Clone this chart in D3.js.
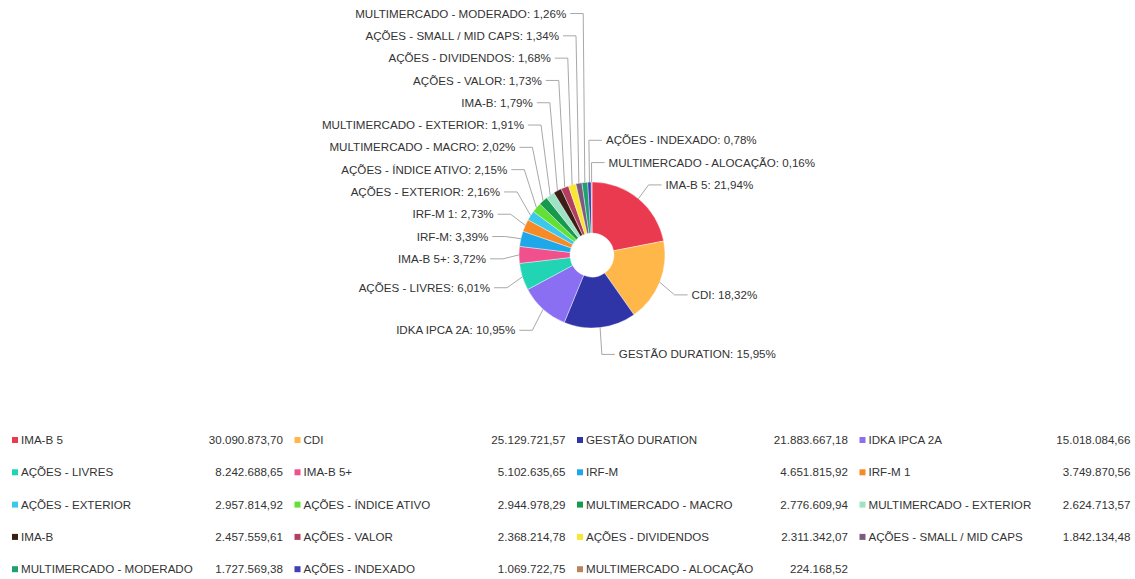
<!DOCTYPE html>
<html>
<head>
<meta charset="utf-8">
<style>
  body { margin: 0; background: #fff; }
  text { font-family: "Liberation Sans", Arial, sans-serif; font-size: 11.6px; fill: #333; }
</style>
</head>
<body>
<script src="https://cdn.jsdelivr.net/npm/d3@7"></script>
<script>
var svgWidth = 1135, svgHeight = 579;

var categories = ['IMA-B 5', 'CDI', 'GESTÃO DURATION', 'IDKA IPCA 2A', 'AÇÕES - LIVRES', 'IMA-B 5+',
    'IRF-M', 'IRF-M 1', 'AÇÕES - EXTERIOR', 'AÇÕES - ÍNDICE ATIVO', 'MULTIMERCADO - MACRO',
    'MULTIMERCADO - EXTERIOR', 'IMA-B', 'AÇÕES - VALOR', 'AÇÕES - DIVIDENDOS', 'AÇÕES - SMALL / MID CAPS',
    'MULTIMERCADO - MODERADO', 'AÇÕES - INDEXADO', 'MULTIMERCADO - ALOCAÇÃO'];
var values = [30090873.70, 25129721.57, 21883667.18, 15018084.66, 8242688.65, 5102635.65,
    4651815.92, 3749870.56, 2957814.92, 2944978.29, 2776609.94,
    2624713.57, 2457559.61, 2368214.78, 2311342.07, 1842134.48,
    1727569.38, 1069722.75, 224168.52];
var colors = ['#ea3a4f', '#ffb74a', '#2f34a6', '#8b6ff2', '#20d4b4', '#f0508c',
    '#1ea8ea', '#f58a26', '#3cc8e8', '#63e038', '#179a4d',
    '#9ee3c6', '#3c1f14', '#b33e61', '#f8e633', '#7b5b80',
    '#1ea070', '#3f3fb8', '#b9845c'];

var data = categories.map(function (c, i) {
    return { name: c, value: values[i], color: colors[i] };
});

var ptBR = d3.formatLocale({ decimal: ',', thousands: '.', grouping: [3], currency: ['R$', ''] });
var fmtValue = ptBR.format(',.2f');
var fmtPct = ptBR.format('.2f');

var svg = d3.select('body').append('svg')
    .attr('width', svgWidth)
    .attr('height', svgHeight);

// pie
var cx = 592, cy = 255, outerR = 73, innerR = 22;
var total = d3.sum(values);

var pie = d3.pie().sort(null).value(function (d) { return d.value; });
var arc = d3.arc().innerRadius(innerR).outerRadius(outerR);
var arcs = pie(data);

var pieGroup = svg.append('g').attr('transform', 'translate(' + cx + ',' + cy + ')');
pieGroup.selectAll('path')
    .data(arcs)
    .enter()
    .append('path')
    .attr('d', arc)
    .attr('fill', function (d) { return d.data.color; })
    .attr('stroke', '#fff')
    .attr('stroke-width', 0.4);

// labels: natural position from the mid angle, then pushed up to avoid overlap
var labelR = 92, elbowR = 89, spacing = 22.3;
arcs.forEach(function (d) {
    d.mid = (d.startAngle + d.endAngle) / 2;
    d.side = Math.sin(d.mid) > -0.06 ? 'right' : 'left';
    d.ly = cy - Math.cos(d.mid) * labelR + 4 * (1 - Math.cos(d.mid));
    d.ex = cx + Math.sin(d.mid) * elbowR;
});

function stack(list) {
    for (var i = list.length - 2; i >= 0; i--) {
        list[i].ly = Math.min(list[i].ly, list[i + 1].ly - spacing);
    }
}
var left = arcs.filter(function (d) { return d.side === 'left'; })
    .sort(function (a, b) { return b.mid - a.mid; });
var right = arcs.filter(function (d) { return d.side === 'right'; })
    .sort(function (a, b) {
        var ma = a.mid > Math.PI ? a.mid - 2 * Math.PI : a.mid;
        var mb = b.mid > Math.PI ? b.mid - 2 * Math.PI : b.mid;
        return ma - mb;
    });
stack(left);
stack(right);

var labels = svg.append('g');
labels.selectAll('path')
    .data(arcs)
    .enter()
    .append('path')
    .attr('fill', 'none')
    .attr('stroke', '#a8a8a8')
    .attr('stroke-width', 1)
    .attr('d', function (d) {
        var dir = d.side === 'right' ? 1 : -1;
        var x0 = cx + Math.sin(d.mid) * outerR, y0 = cy - Math.cos(d.mid) * outerR;
        return 'M' + x0 + ',' + y0 + 'L' + d.ex + ',' + d.ly + 'L' + (d.ex + dir * 13) + ',' + d.ly;
    });
labels.selectAll('text')
    .data(arcs)
    .enter()
    .append('text')
    .attr('x', function (d) { return d.ex + (d.side === 'right' ? 17 : -17); })
    .attr('y', function (d) { return d.ly; })
    .attr('dy', '0.35em')
    .attr('text-anchor', function (d) { return d.side === 'right' ? 'start' : 'end'; })
    .text(function (d) { return d.data.name + ': ' + fmtPct(d.data.value / total * 100) + '%'; });

// legend
var legendCols = 4, colWidth = 282.5, legendX = 10, legendY = 440, rowHeight = 32.3;
var legend = svg.append('g');
var items = legend.selectAll('g')
    .data(data)
    .enter()
    .append('g')
    .attr('transform', function (d, i) {
        var c = i % legendCols, r = Math.floor(i / legendCols);
        return 'translate(' + (legendX + c * colWidth) + ',' + (legendY + r * rowHeight) + ')';
    });
items.append('rect')
    .attr('x', 2).attr('y', -3)
    .attr('width', 6).attr('height', 6)
    .attr('fill', function (d) { return d.color; });
items.append('text')
    .attr('x', 11).attr('dy', '0.35em')
    .text(function (d) { return d.name; });
items.append('text')
    .attr('x', 273).attr('dy', '0.35em')
    .attr('text-anchor', 'end')
    .text(function (d) { return fmtValue(d.value); });
</script>
</body>
</html>
